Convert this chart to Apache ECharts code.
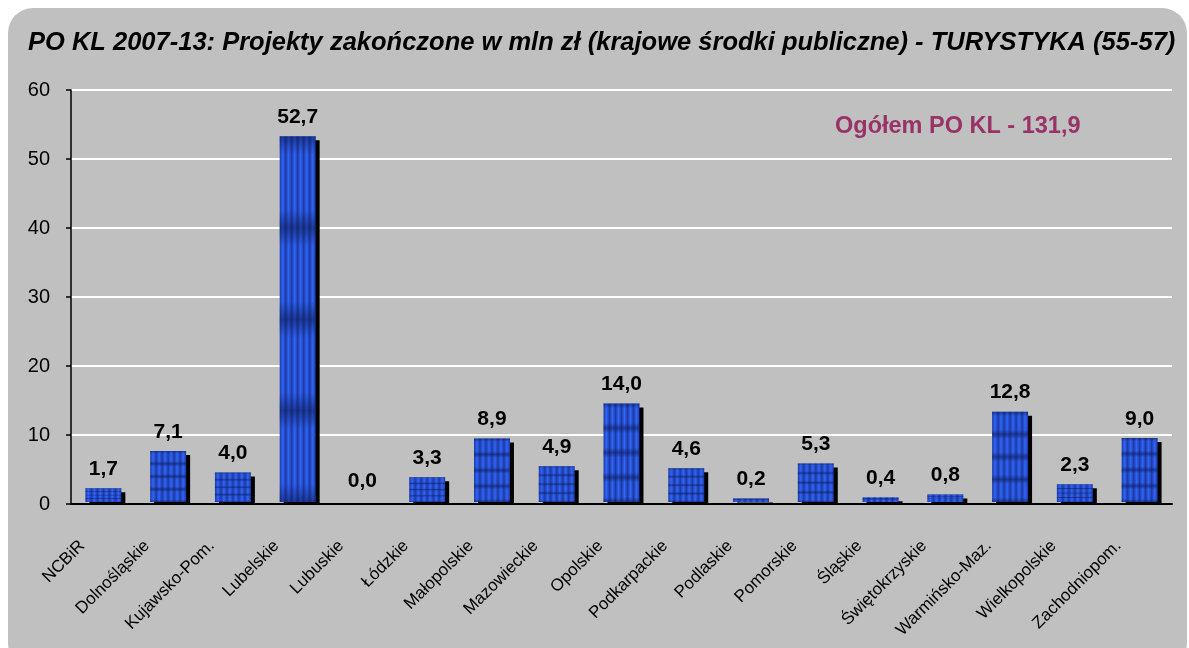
<!DOCTYPE html>
<html>
<head>
<meta charset="utf-8">
<script src="https://cdn.jsdelivr.net/npm/echarts@6/dist/echarts.min.js"></script>
<style>
  html, body { margin: 0; padding: 0; background: #fff; }
  #frame { position: absolute; left: 8px; top: 8px; width: 1179px; height: 660px; border-radius: 25px; background: #c0c0c0; }
  #chart { position: absolute; left: 0; top: 0; width: 1189px; height: 648px; }
</style>
</head>
<body>
<div id="frame"></div>
<div id="chart"></div>
<script>
const titleText = 'PO KL 2007-13: Projekty zakończone w mln zł (krajowe środki publiczne) - TURYSTYKA (55-57)'
const totalNote = 'Ogółem PO KL - 131,9'

const categories = ['NCBiR', 'Dolnośląskie', 'Kujawsko-Pom.', 'Lubelskie', 'Lubuskie', 'Łódzkie', 'Małopolskie',
  'Mazowieckie', 'Opolskie', 'Podkarpackie', 'Podlaskie', 'Pomorskie', 'Śląskie', 'Świętokrzyskie',
  'Warmińsko-Maz.', 'Wielkopolskie', 'Zachodniopom.']
const values = [1.7, 7.1, 4.0, 52.7, 0.0, 3.3, 8.9, 4.9, 14.0, 4.6, 0.2, 5.3, 0.4, 0.8, 12.8, 2.3, 9.0]
const yTicks = [0, 10, 20, 30, 40, 50, 60]

const FONT = 'Arial, "Liberation Sans", sans-serif'

// pionowe paski (kolumny wzoru)
const stripeStops = []
for (let k = 0; k < 6; k++) {
  stripeStops.push({offset: k / 6, color: '#1c3aa6'})
  stripeStops.push({offset: (k + 0.5) / 6, color: '#3065f6'})
  stripeStops.push({offset: (k + 1) / 6, color: '#1c3aa6'})
}
const stripeFill = {type: 'linear', x: 0, y: 0, x2: 1, y2: 0, colorStops: stripeStops, global: false}

// poziome pasy (wiersze wzoru)
const rowStops = []
for (let r = 0; r < 4; r++) {
  rowStops.push({offset: r / 4, color: 'rgba(10,20,70,0.5)'})
  rowStops.push({offset: (r + 0.2) / 4, color: 'rgba(10,20,70,0)'})
  rowStops.push({offset: (r + 0.8) / 4, color: 'rgba(10,20,70,0)'})
  rowStops.push({offset: (r + 1) / 4, color: 'rgba(10,20,70,0.5)'})
}
const rowFill = {type: 'linear', x: 0, y: 0, x2: 0, y2: 1, colorStops: rowStops, global: false}

const fmt = v => v.toFixed(1).replace('.', ',')

const renderBar = (params, api) => {
  const idx = api.value(0)
  const v = api.value(1)
  const base = api.coord([idx, 0])
  const top = api.coord([idx, v])
  const w = api.size([1, 0])[0] * 0.555
  const h = base[1] - top[1]
  const x = base[0] - w / 2
  const children = []
  if (h > 0.5) {
    children.push({type: 'rect', shape: {x: x + 4, y: top[1], width: w, height: h}, style: {fill: '#000'}})
    const face = {x: x, y: top[1] - 4, width: w, height: h + 2}
    children.push({type: 'rect', shape: face, style: {fill: stripeFill}})
    children.push({type: 'rect', shape: face, style: {fill: rowFill}})
  }
  children.push({
    type: 'text', x: base[0], y: top[1] - 23,
    style: {text: fmt(v), font: 'bold 21px ' + FONT, fill: '#000', align: 'center', verticalAlign: 'middle'}
  })
  return {type: 'group', children}
}

const chart = echarts.init(document.getElementById('chart'))
chart.setOption({
  backgroundColor: 'transparent',
  animation: false,
  title: {
    text: titleText,
    left: 28,
    top: 30,
    padding: 0,
    textStyle: {fontFamily: FONT, fontSize: 25.5, fontWeight: 'bold', fontStyle: 'italic', color: '#000'}
  },
  graphic: [{
    type: 'text', left: 835, top: 115,
    style: {text: totalNote, font: 'bold 23.5px ' + FONT, fill: '#993366'}
  }],
  grid: {left: 71, right: 17, top: 90, bottom: 144},
  xAxis: {
    type: 'category',
    data: categories,
    axisLine: {lineStyle: {color: '#000', width: 2}},
    axisTick: {length: 6, lineStyle: {color: '#000', width: 1.5}},
    axisLabel: {
      rotate: 45, interval: 0, margin: 18, padding: [0, 30, 0, 0],
      fontFamily: FONT, fontSize: 17, color: '#000'
    }
  },
  yAxis: {
    type: 'value',
    min: yTicks[0],
    max: yTicks[yTicks.length - 1],
    interval: yTicks[1] - yTicks[0],
    axisLine: {show: true, lineStyle: {color: '#000', width: 1.5}},
    axisTick: {show: true, length: 5, lineStyle: {color: '#000', width: 1.5}},
    axisLabel: {margin: 21, fontFamily: FONT, fontSize: 20, color: '#000'},
    splitLine: {lineStyle: {color: '#fff', width: 2}}
  },
  series: [{
    type: 'custom',
    renderItem: renderBar,
    clip: false,
    encode: {x: 0, y: 1},
    data: values.map((v, i) => [i, v])
  }]
})
</script>
</body>
</html>
